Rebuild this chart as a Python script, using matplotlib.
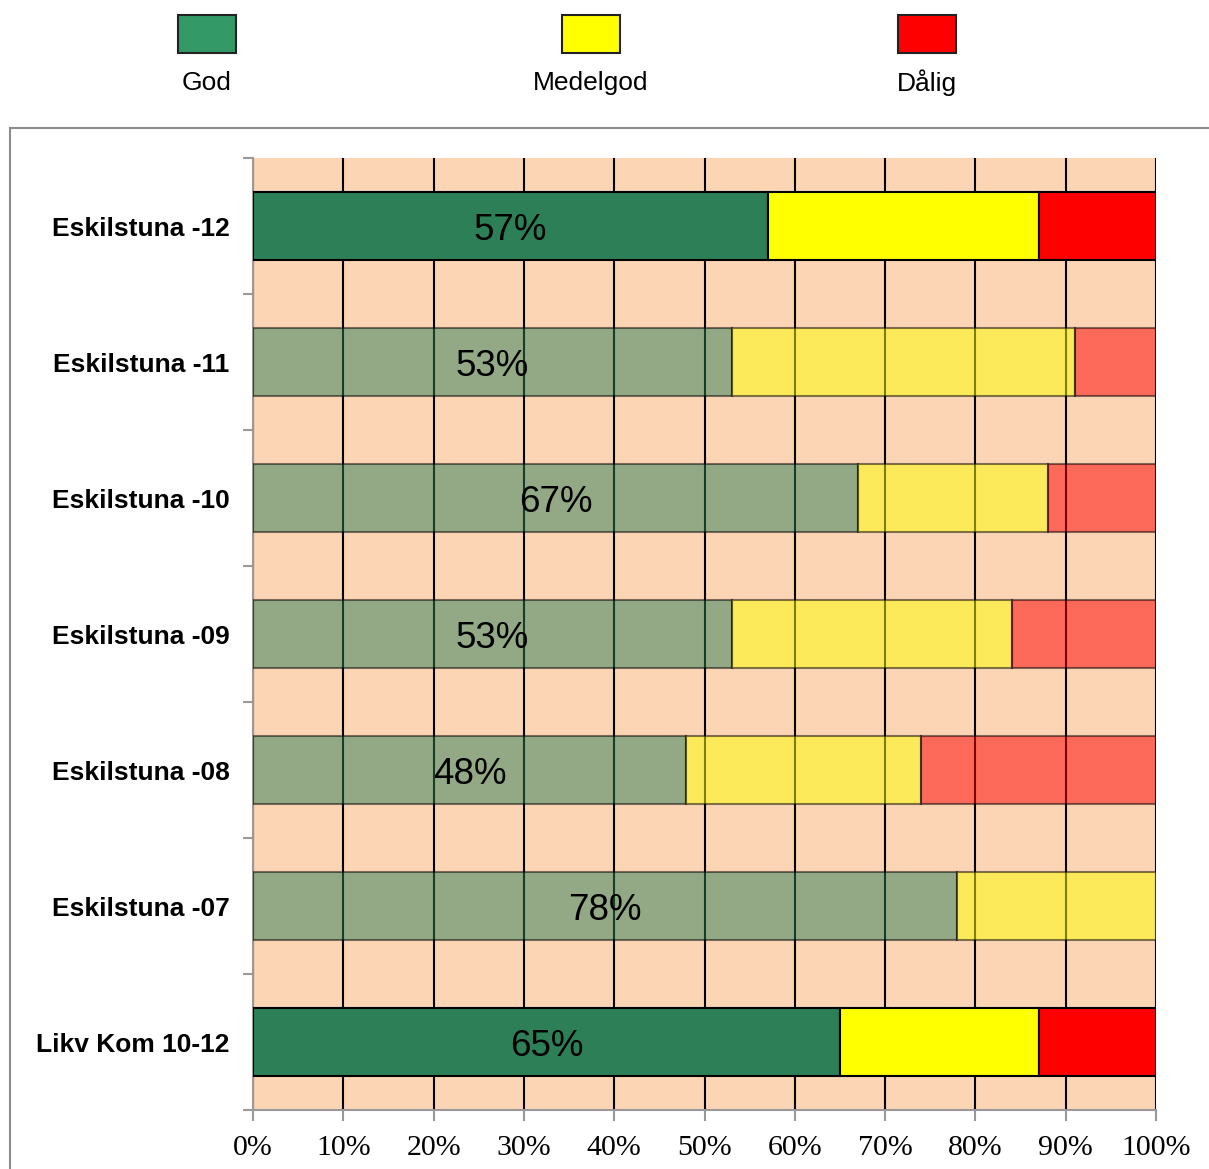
import matplotlib
matplotlib.use("Agg")
import matplotlib.pyplot as plt
from matplotlib.patches import Rectangle
from matplotlib.lines import Line2D
import numpy as np

categories = ["Eskilstuna -12", "Eskilstuna -11", "Eskilstuna -10", "Eskilstuna -09",
              "Eskilstuna -08", "Eskilstuna -07", "Likv Kom 10-12"]
god = [57, 53, 67, 53, 48, 78, 65]
medelgod = [30, 38, 21, 31, 26, 22, 22]
dalig = [13, 9, 12, 16, 26, 0, 13]
series_names = ["God", "Medelgod", "Dålig"]
highlighted = [True, False, False, False, False, False, True]
xtick_labels = [f"{v}%" for v in range(0, 101, 10)]

bar_colors = ["#2c7f57", "#ffff00", "#ff0000"]
legend_colors = ["#339966", "#ffff00", "#ff0000"]
bg_color = "#fcd5b5"

W, H = 1209, 1169
fig = plt.figure(figsize=(W / 100, H / 100), dpi=100)
fig.patch.set_facecolor("white")

ax = fig.add_axes([253 / W, 1 - 1110 / H, (1156 - 253) / W, (1110 - 158) / H])
ax.set_facecolor(bg_color)

y = np.arange(len(categories))
left = np.zeros(len(categories))
for vals, color in zip([god, medelgod, dalig], bar_colors):
    vals = np.array(vals, dtype=float) / 100.0
    for i in range(len(categories)):
        if vals[i] <= 0:
            continue
        ax.barh(y[i], vals[i], left=left[i], height=0.5, color=color,
                alpha=1.0 if highlighted[i] else 0.5,
                edgecolor="black", linewidth=1.5, zorder=3)
    left += vals

for i, v in enumerate(god):
    ax.text(v / 200.0, y[i] + 0.03, f"{v}%", ha="center", va="center",
            fontsize=26.5, family="Liberation Sans", color="black", zorder=5)

ax.set_xlim(0, 1)
ax.set_ylim(len(categories) - 0.5, -0.5)

ax.set_xticks(np.linspace(0, 1, 11))
ax.set_xticklabels(xtick_labels, family="Liberation Serif", fontsize=21.5)
ax.xaxis.grid(True, color="black", linewidth=1.5, zorder=1)
ax.set_axisbelow(True)

ax.set_yticks(y)
ax.set_yticklabels(categories, fontsize=19, fontweight="bold", family="Liberation Sans")
ax.set_yticks(np.arange(len(categories) + 1) - 0.5, minor=True)
ax.tick_params(axis="y", which="major", length=0, pad=17)
ax.tick_params(axis="y", which="minor", length=7, color="#999999", width=1.5, direction="out")
ax.tick_params(axis="x", which="major", length=8, color="#999999", width=1.5,
               direction="out", pad=10)

for side in ["top", "right"]:
    ax.spines[side].set_visible(False)
for side in ["left", "bottom"]:
    ax.spines[side].set_color("#999999")
    ax.spines[side].set_linewidth(1.5)

# chart frame
fig.add_artist(Line2D([10 / W, 10 / W], [0, 1 - 128 / H], transform=fig.transFigure,
                      color="#8c8c8c", linewidth=1.5))
fig.add_artist(Line2D([10 / W, 1], [1 - 128 / H, 1 - 128 / H], transform=fig.transFigure,
                      color="#8c8c8c", linewidth=1.5))

# legend: swatches with labels beneath
swatch_x = [178, 562, 898]
for sx, name, color in zip(swatch_x, series_names, legend_colors):
    fig.add_artist(Rectangle((sx / W, 1 - 53 / H), 58 / W, 38 / H,
                             transform=fig.transFigure, facecolor=color,
                             edgecolor="#222222", linewidth=1.5))
    fig.text((sx + 29) / W, 1 - 83 / H, name, ha="center", va="center",
             fontsize=19, family="Liberation Sans", color="black")

fig.savefig("out.png", dpi=100)
